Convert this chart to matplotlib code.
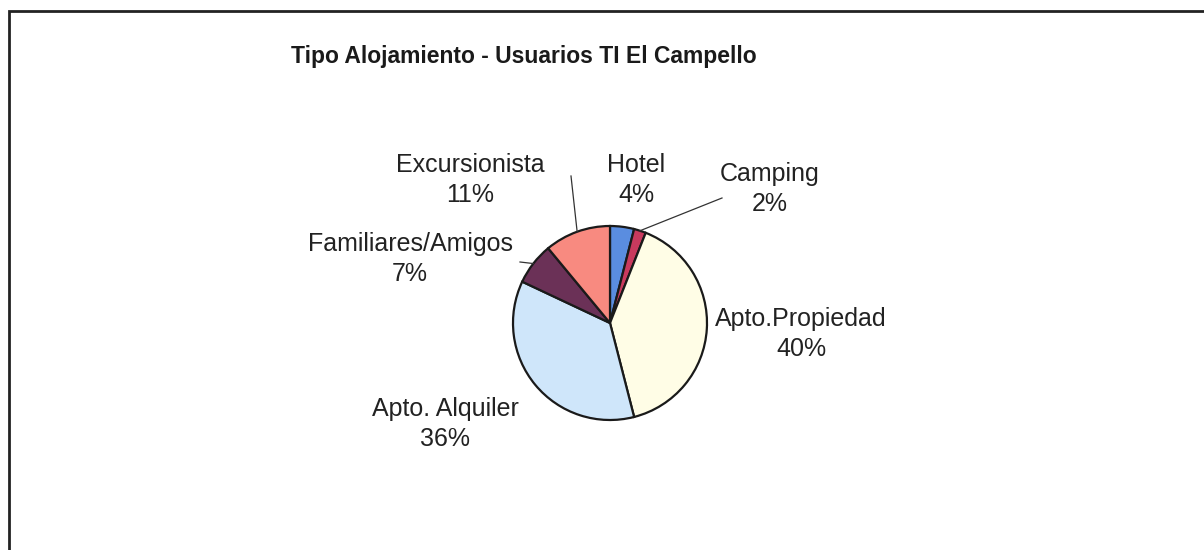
import matplotlib.pyplot as plt
import numpy as np

# data, clockwise from the top
labels = ['Hotel', 'Camping', 'Apto.Propiedad', 'Apto. Alquiler', 'Familiares/Amigos', 'Excursionista']
values = [4, 2, 40, 36, 7, 11]
colors = ['#5a8de0', '#c93a5e', '#fffde6', '#cfe6fa', '#6b3157', '#f88a80']

# label centres in pixel coords (x, y from top)
label_pos = [(636, 180), (770, 189), (801, 334), (445, 424), (410, 259), (470, 180)]
leader = [False, True, False, False, True, True]
leader_end = {1: (722, 198), 4: (520, 262), 5: (571, 176)}

W, H = 1204, 550
plt.rcParams['font.family'] = ['Liberation Sans', 'DejaVu Sans']

fig = plt.figure(figsize=(W / 100, H / 100), dpi=100)
ax = fig.add_axes([0, 0, 1, 1])

cx, cy, r = 610, H - 323, 97
wedges, _ = ax.pie(values, colors=colors, startangle=90, counterclock=False,
                   center=(cx, cy), radius=r, frame=True,
                   wedgeprops=dict(edgecolor='#1a1a1a', linewidth=1.6))
ax.set_xlim(0, W)
ax.set_ylim(0, H)
ax.set_aspect('equal')
ax.axis('off')

for i, w in enumerate(wedges):
    lx, ly = label_pos[i]
    ax.text(lx, H - ly, f'{labels[i]}\n{values[i]}%', ha='center', va='center',
            fontsize=18, color='#222222', linespacing=1.3)
    if leader[i]:
        ang = np.deg2rad((w.theta1 + w.theta2) / 2)
        px, py = cx + r * np.cos(ang), cy + r * np.sin(ang)
        ex, ey = leader_end[i]
        ax.plot([px, ex], [py, H - ey], color='#333333', lw=0.9)

# frame line (left + top)
ax.plot([9, 9, W], [0, H - 11, H - 11], color='#222222', lw=2, solid_joinstyle='miter')

ax.text(524, H - 63, 'Tipo Alojamiento - Usuarios TI El Campello', ha='center', va='baseline',
        fontsize=16.5, fontweight='bold', color='#1a1a1a')

fig.savefig('out.png', dpi=100)
